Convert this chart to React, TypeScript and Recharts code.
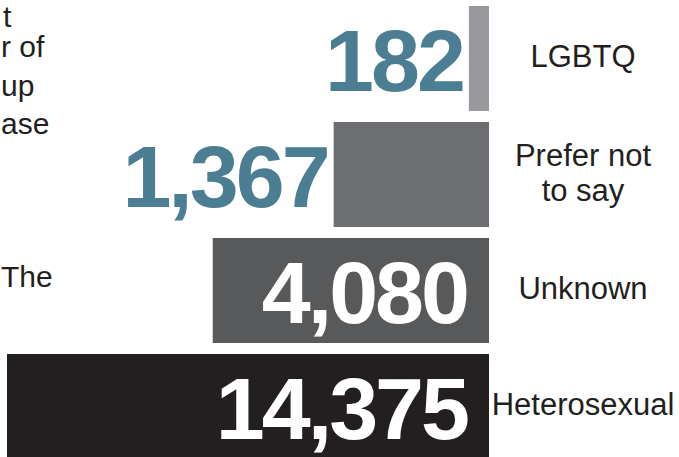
import { BarChart, Bar, XAxis, YAxis, LabelList, Cell } from 'recharts';

const categories = ['LGBTQ', 'Prefer not to say', 'Unknown', 'Heterosexual'];
const counts = [182, 1367, 4080, 14375];
const barColors = ['#98999c', '#6d6e71', '#58595b', '#231f20'];
// cropped paragraph fragments at the left edge of the picture
const sideLines = ['t', 'r of', 'up', 'ase', '', '', '', 'The'];

const data = categories.map((name, i) => ({ name, count: counts[i] }));

const TEAL = '#4b7e93';
const INK = '#231f20';
const sans = '"Liberation Sans", Arial, Helvetica, sans-serif';

// small power scale (like d3 scalePow().exponent(k)) so the bars are compressed
function powScale(k: number, dom: number[] = [0, 1], rng: number[] = [0, 1]): any {
  const f = (v: number) => Math.pow(Math.max(v, 0), k);
  const s: any = (v: number) => {
    const t = (f(v) - f(dom[0])) / (f(dom[1]) - f(dom[0]));
    return rng[0] + t * (rng[1] - rng[0]);
  };
  s.domain = (d?: number[]) => (d ? ((dom = [...d]), s) : [...dom]);
  s.range = (r?: number[]) => (r ? ((rng = [...r]), s) : [...rng]);
  s.copy = () => powScale(k, dom, rng);
  s.invert = (px: number) => {
    const t = (px - rng[0]) / (rng[1] - rng[0]);
    return Math.pow(f(dom[0]) + t * (f(dom[1]) - f(dom[0])), 1 / k);
  };
  s.ticks = () => [...dom];
  s.tickFormat = () => (v: any) => String(v);
  s.nice = () => s;
  s.clamp = () => s;
  return s;
}

function wrap(label: string, max = 11) {
  const lines: string[] = [];
  let cur = '';
  label.split(' ').forEach((w) => {
    if (cur && (cur + ' ' + w).length > max) {
      lines.push(cur);
      cur = w;
    } else {
      cur = cur ? cur + ' ' + w : w;
    }
  });
  if (cur) lines.push(cur);
  return lines;
}

const CategoryTick = (props: any) => {
  const { x, y, payload } = props;
  const lines = wrap(payload.value);
  const lh = 35;
  return (
    <text x={x + 94} y={y} textAnchor="middle" fontFamily={sans} fontSize={31} fill={INK}>
      {lines.map((l, i) => (
        <tspan key={i} x={x + 94} y={y + 9 + (i - (lines.length - 1) / 2) * lh}>
          {l}
        </tspan>
      ))}
    </text>
  );
};

const ValueLabel = (props: any) => {
  const { x, y, width, height, value } = props;
  const left = Math.min(x, x + width);
  const right = Math.max(x, x + width);
  const inside = right - left > 220;
  const cy = y + height / 2 + 32;
  return (
    <text
      x={inside ? right - 22 : left - 6}
      y={cy}
      textAnchor="end"
      fontFamily={sans}
      fontWeight="bold"
      fontSize={88}
      letterSpacing={-3}
      fill={inside ? '#ffffff' : TEAL}
    >
      {Number(value).toLocaleString('en-US')}
    </text>
  );
};

export default function App() {
  return (
    <div style={{ position: 'absolute', left: 0, top: 0, width: 679, height: 457, overflow: 'hidden', background: '#fff' }}>
      <svg width={679} height={457} style={{ position: 'absolute', left: 0, top: 0 }}>
        {sideLines.map((t, i) => (
          <text key={i} x={i === 0 ? 3 : 1} y={i === 0 ? 27 : 19 + i * 38.3} fontFamily={sans} fontSize={30} fill={INK}>
            {t}
          </text>
        ))}
      </svg>
      <div style={{ position: 'absolute', left: 0, top: 0 }}>
        <BarChart
          width={679}
          height={464}
          data={data}
          layout="vertical"
          margin={{ top: 0, right: 0, bottom: 0, left: 7 }}
          barSize={105}
        >
          <XAxis type="number" hide scale={powScale(0.33)} domain={[115, 14375]} allowDataOverflow reversed />
          <YAxis
            type="category"
            dataKey="name"
            orientation="right"
            width={190}
            axisLine={false}
            tickLine={false}
            tickSize={0}
            tickMargin={0}
            interval={0}
            tick={<CategoryTick />}
          />
          <Bar dataKey="count" isAnimationActive={false}>
            {data.map((d, i) => (
              <Cell key={d.name} fill={barColors[i]} />
            ))}
            <LabelList dataKey="count" content={<ValueLabel />} />
          </Bar>
        </BarChart>
      </div>
    </div>
  );
}
